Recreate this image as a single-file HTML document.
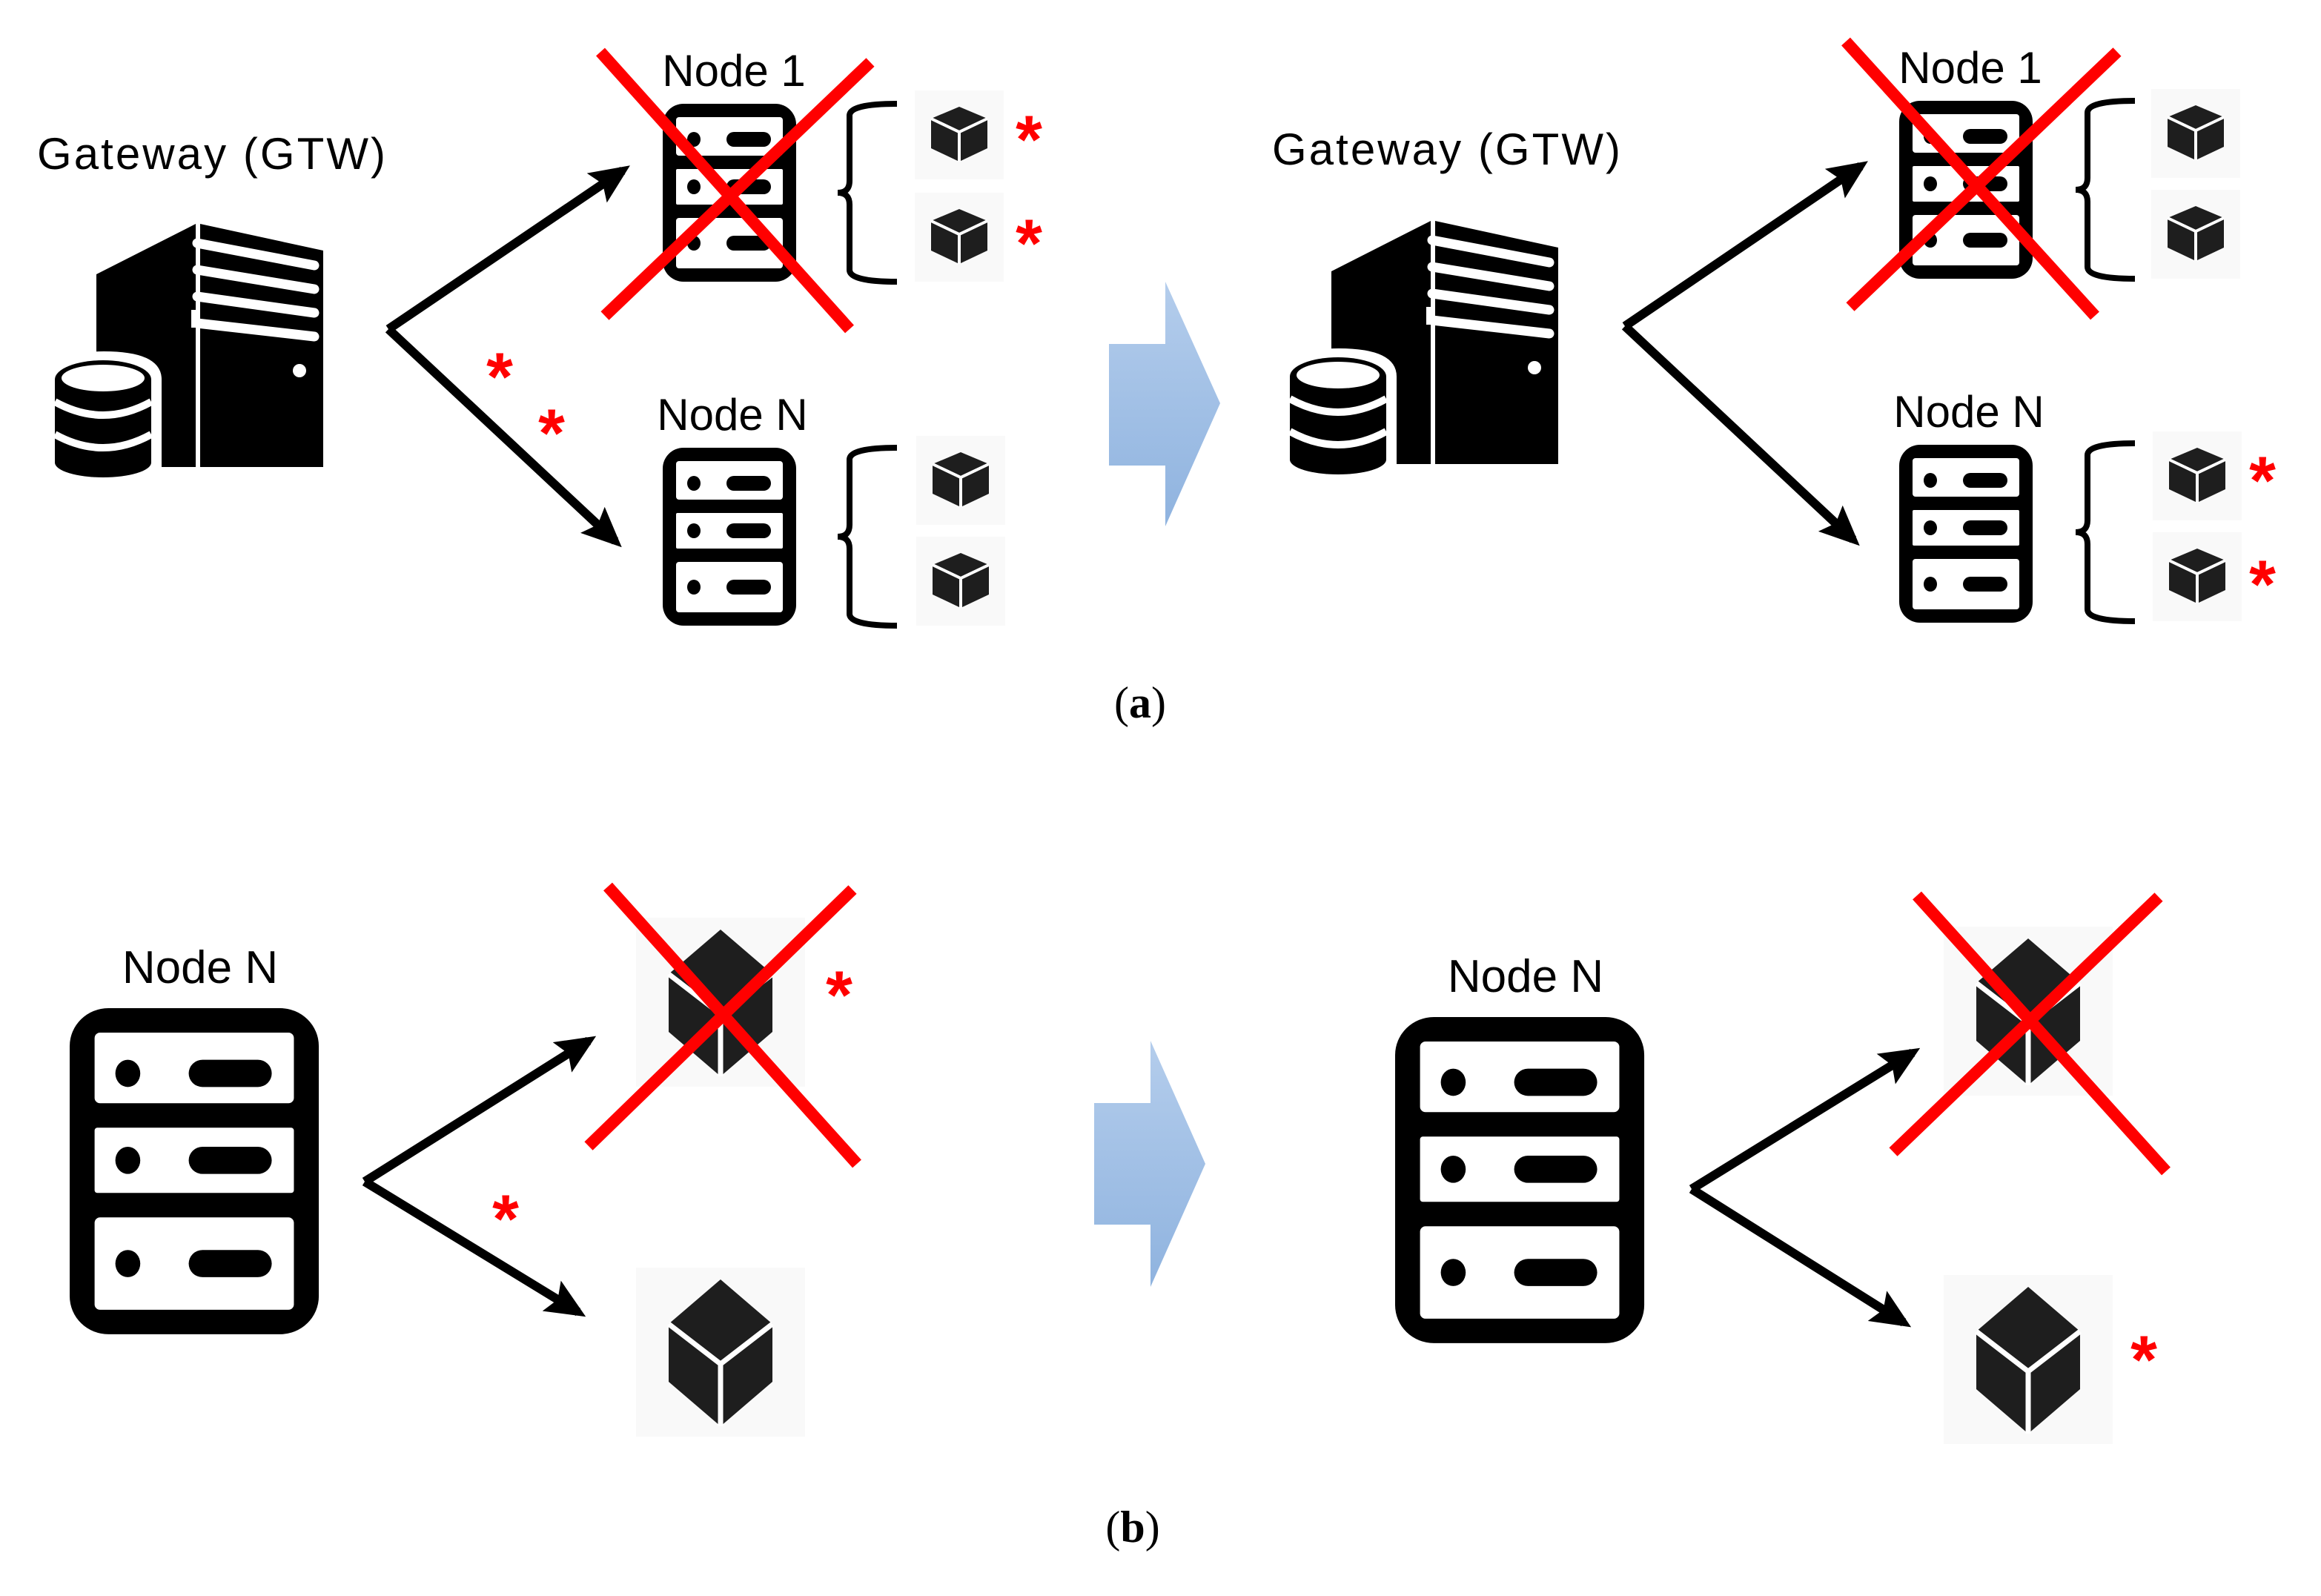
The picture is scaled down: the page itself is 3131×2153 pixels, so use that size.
<!DOCTYPE html>
<html><head><meta charset="utf-8"><style>
html,body{margin:0;padding:0;background:#fff;}
svg{display:block;}
text{font-family:"Liberation Sans",sans-serif;}
</style></head><body>
<svg width="3131" height="2153" viewBox="0 0 1565.5 1076.5" xmlns="http://www.w3.org/2000/svg">
<defs>
<linearGradient id="bg" x1="0" y1="0" x2="0" y2="1"><stop offset="0" stop-color="#b4cdec"/><stop offset="1" stop-color="#8fb3df"/></linearGradient>
<marker id="ah" markerWidth="4.5" markerHeight="4" refX="3.5" refY="2" orient="auto" markerUnits="strokeWidth"><path d="M0,0 L4.5,2 L0,4 L0.8,2 Z" fill="#000"/></marker>
<g id="srv">
<rect x="0" y="0" width="90" height="120" rx="14" fill="#000"/>
<rect x="9" y="9" width="72" height="26" rx="2" fill="#fff"/>
<rect x="9" y="44" width="72" height="24" rx="1" fill="#fff"/>
<rect x="9" y="77" width="72" height="34" rx="2" fill="#fff"/>
<ellipse cx="21" cy="24" rx="4.5" ry="5" fill="#000"/><rect x="43" y="19" width="30" height="10" rx="5" fill="#000"/>
<ellipse cx="21" cy="56" rx="4.5" ry="5" fill="#000"/><rect x="43" y="51" width="30" height="10" rx="5" fill="#000"/>
<ellipse cx="21" cy="94" rx="4.5" ry="5" fill="#000"/><rect x="43" y="89" width="30" height="10" rx="5" fill="#000"/>
</g>
<g id="cube">
<rect x="-30" y="-30" width="60" height="60" fill="#f9f9f9"/>
<polygon points="0,-19 19,-11 19,9 0,18 -19,9 -19,-11" fill="#1e1e1e"/>
<polyline points="-19,-11 0,-2 19,-11" fill="none" stroke="#fff" stroke-width="2"/>
<line x1="0" y1="-2" x2="0" y2="18" stroke="#fff" stroke-width="2"/>
</g>
<g id="bcube">
<rect x="-57" y="-57" width="114" height="114" fill="#f9f9f9"/>
<polygon points="0,-40 35,-10 35,29 0,59 -35,29 -35,-10" fill="#1e1e1e" transform="translate(0,-9)"/>
<g transform="translate(0,-9)"><polyline points="-35,-10 0,17 35,-10" fill="none" stroke="#fff" stroke-width="3.5"/>
<line x1="0" y1="17" x2="0" y2="59" stroke="#fff" stroke-width="3.5"/></g>
</g>
<g id="gtw">
<polygon points="28,36 95,2 95,166 28,166" fill="#000"/>
<polygon points="98,2 181,20 181,166 98,166" fill="#000"/>
<g stroke="#fff" stroke-width="6.5" stroke-linecap="round" fill="none">
<line x1="96" y1="15" x2="175" y2="30"/>
<line x1="96" y1="33" x2="175" y2="46"/>
<line x1="96" y1="51" x2="175" y2="62"/>
<line x1="96" y1="69" x2="175" y2="78"/>
</g>
<rect x="92" y="60" width="4" height="12" fill="#fff"/>
<circle cx="165" cy="101" r="4.5" fill="#fff"/>
<path d="M-4,107 Q-4,88 33,88 Q72,88 72,107 L72,166 L-4,166 Z" fill="#fff"/>
<path d="M0,107 L0,163 A32.5,10 0 0 0 65,163 L65,107 Z" fill="#000"/>
<ellipse cx="32.5" cy="107" rx="32.5" ry="13" fill="#000"/>
<ellipse cx="32.5" cy="106" rx="28" ry="9" fill="#fff"/>
<path d="M0,122 Q32.5,140 65,122" stroke="#fff" stroke-width="5" fill="none"/>
<path d="M0,144 Q32.5,162 65,144" stroke="#fff" stroke-width="5" fill="none"/>
</g>
<path id="brace" d="M40,0 Q8,0 8,8 L8,52 Q8,60 0,60 Q8,60 8,68 L8,112 Q8,120 40,120" fill="none" stroke="#000" stroke-width="4"/>
</defs>

<!-- (a) left -->
<text x="25" y="114" font-size="30" textLength="235">Gateway (GTW)</text>
<use href="#gtw" x="37" y="149"/>
<line x1="262" y1="222" x2="420" y2="115" stroke="#000" stroke-width="6" marker-end="url(#ah)"/>
<line x1="262" y1="222" x2="415" y2="365" stroke="#000" stroke-width="6" marker-end="url(#ah)"/>
<text x="495" y="58" font-size="30" text-anchor="middle">Node 1</text>
<use href="#srv" x="447" y="70"/>
<line x1="405" y1="35" x2="573" y2="222" stroke="#f00" stroke-width="8"/>
<line x1="587" y1="42" x2="408" y2="213" stroke="#f00" stroke-width="8"/>
<use href="#brace" x="565" y="70"/>
<use href="#cube" x="647" y="91"/><use href="#cube" x="647" y="160"/>
<g font-size="46" fill="#f00" text-anchor="middle" font-weight="bold">
<text x="694" y="110">*</text>
<text x="694" y="180">*</text>
<text x="337" y="270">*</text>
<text x="372" y="308">*</text>
</g>
<text x="494" y="290" font-size="30" text-anchor="middle">Node N</text>
<use href="#srv" x="447" y="302"/>
<use href="#brace" x="565" y="302"/>
<use href="#cube" x="648" y="324"/><use href="#cube" x="648" y="392"/>

<polygon points="748,232 786,232 786,190 823,272 786,355 786,314 748,314" fill="url(#bg)"/>

<!-- (a) right -->
<text x="858" y="111" font-size="30" textLength="235">Gateway (GTW)</text>
<use href="#gtw" x="870" y="147"/>
<line x1="1096" y1="220" x2="1255" y2="112" stroke="#000" stroke-width="6" marker-end="url(#ah)"/>
<line x1="1096" y1="220" x2="1250" y2="364" stroke="#000" stroke-width="6" marker-end="url(#ah)"/>
<text x="1329" y="56" font-size="30" text-anchor="middle">Node 1</text>
<use href="#srv" x="1281" y="68"/>
<line x1="1245" y1="28" x2="1413" y2="213" stroke="#f00" stroke-width="8"/>
<line x1="1428" y1="35" x2="1248" y2="207" stroke="#f00" stroke-width="8"/>
<use href="#brace" x="1400" y="68"/>
<use href="#cube" x="1481" y="90"/><use href="#cube" x="1481" y="158"/>
<text x="1328" y="288" font-size="30" text-anchor="middle">Node N</text>
<use href="#srv" x="1281" y="300"/>
<use href="#brace" x="1400" y="299"/>
<use href="#cube" x="1482" y="321"/><use href="#cube" x="1482" y="389"/>
<g font-size="46" fill="#f00" text-anchor="middle" font-weight="bold">
<text x="1526" y="340">*</text>
<text x="1526" y="410">*</text>
</g>

<text x="769" y="484" font-size="30" text-anchor="middle" style="font-family:'Liberation Serif',serif">(<tspan font-weight="bold">a</tspan>)</text>

<!-- (b) left -->
<text x="135" y="663" font-size="31" text-anchor="middle">Node N</text>
<use href="#srv" transform="translate(47,680) scale(1.867,1.833)"/>
<line x1="246" y1="797" x2="397" y2="702" stroke="#000" stroke-width="6" marker-end="url(#ah)"/>
<line x1="246" y1="797" x2="390" y2="885" stroke="#000" stroke-width="6" marker-end="url(#ah)"/>
<use href="#bcube" x="486" y="676"/>
<use href="#bcube" x="486" y="912"/>
<line x1="410" y1="598" x2="578" y2="785" stroke="#f00" stroke-width="8"/>
<line x1="575" y1="600" x2="397" y2="773" stroke="#f00" stroke-width="8"/>
<g font-size="46" fill="#f00" text-anchor="middle" font-weight="bold">
<text x="566" y="687">*</text>
<text x="341" y="838">*</text>
</g>

<polygon points="738,744 776,744 776,702 813,785 776,868 776,826 738,826" fill="url(#bg)"/>

<!-- (b) right -->
<text x="1029" y="669" font-size="31" text-anchor="middle">Node N</text>
<use href="#srv" transform="translate(941,686) scale(1.867,1.833)"/>
<line x1="1141" y1="802" x2="1290" y2="710" stroke="#000" stroke-width="6" marker-end="url(#ah)"/>
<line x1="1141" y1="802" x2="1284" y2="892" stroke="#000" stroke-width="6" marker-end="url(#ah)"/>
<use href="#bcube" x="1368" y="682"/>
<use href="#bcube" x="1368" y="917"/>
<line x1="1293" y1="604" x2="1461" y2="790" stroke="#f00" stroke-width="8"/>
<line x1="1456" y1="605" x2="1277" y2="777" stroke="#f00" stroke-width="8"/>
<text x="1446" y="933" font-size="46" font-weight="bold" fill="#f00" text-anchor="middle">*</text>

<text x="764" y="1040" font-size="30" text-anchor="middle" style="font-family:'Liberation Serif',serif">(<tspan font-weight="bold">b</tspan>)</text>
</svg>
</body></html>
